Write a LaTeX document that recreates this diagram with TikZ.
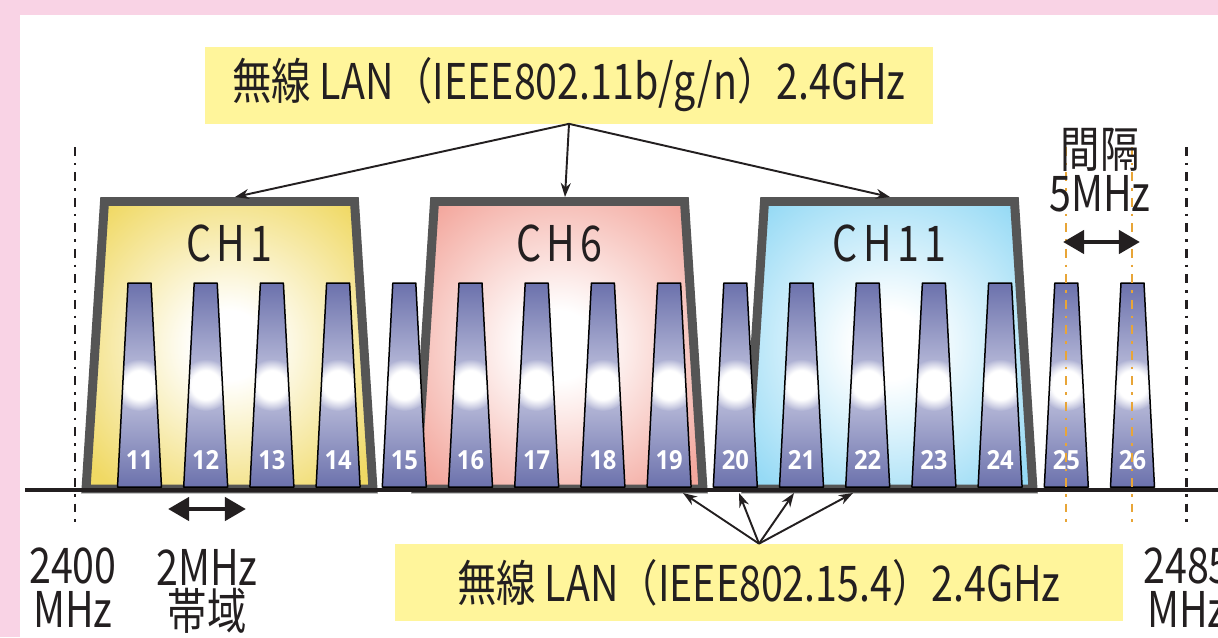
\documentclass[tikz,border=0pt]{standalone}
\usepackage{fontspec}
\setmainfont{Noto Sans CJK JP}[FakeStretch=0.8]
\newfontfamily\chfont{Noto Sans CJK JP}[FakeStretch=0.8,LetterSpace=11]
\newfontfamily\numfont{Open Sans}[FakeStretch=0.9]
\usepackage{tikz}
\usetikzlibrary{arrows.meta,fadings}

\definecolor{pinkbg}{RGB}{249,211,229}
\definecolor{labelyellow}{RGB}{255,245,155}
\definecolor{chone}{RGB}{240,217,100}
\definecolor{chsix}{RGB}{243,167,157}
\definecolor{chele}{RGB}{150,218,245}
\definecolor{barblue}{RGB}{104,110,170}
\definecolor{barlight}{RGB}{196,198,224}
\definecolor{edgegray}{RGB}{85,85,85}
\definecolor{orangeline}{RGB}{232,165,55}
\definecolor{inkblack}{RGB}{35,31,32}

\pgfdeclareradialshading{glowone}{\pgfpointorigin}{color(0bp)=(white); color(6bp)=(white); color(32bp)=(chone); color(50bp)=(chone)}
\pgfdeclareradialshading{glowsix}{\pgfpointorigin}{color(0bp)=(white); color(6bp)=(white); color(32bp)=(chsix); color(50bp)=(chsix)}
\pgfdeclareradialshading{glowele}{\pgfpointorigin}{color(0bp)=(white); color(6bp)=(white); color(32bp)=(chele); color(50bp)=(chele)}
\pgfdeclareverticalshading{barfade}{100bp}{color(0bp)=(barblue); color(24bp)=(barblue); color(50bp)=(barlight); color(76bp)=(barblue); color(100bp)=(barblue)}
\pgfdeclareradialshading{dotshade}{\pgfpointorigin}{color(0bp)=(pgftransparent!0); color(14bp)=(pgftransparent!0); color(25bp)=(pgftransparent!100); color(50bp)=(pgftransparent!100)}
\pgfdeclarefading{glowdot}{\pgfuseshading{dotshade}}

\begin{document}
\begin{tikzpicture}[x=0.02cm, y=-0.02cm,
    lbl/.style={fill=labelyellow, minimum width=14.56cm, minimum height=1.54cm,
                font=\fontsize{28pt}{30pt}\selectfont, text=inkblack},
    chan/.style={draw=edgegray, line width=5.1pt},
    chlbl/.style={font=\chfont\fontsize{28pt}{30pt}\selectfont, text=inkblack},
    bar/.style={draw=black, line width=0.85pt, line join=round},
    num/.style={font=\numfont\bfseries\fontsize{15pt}{15pt}\selectfont, text=white, inner sep=0pt},
    freq/.style={font=\fontsize{28pt}{25pt}\selectfont, align=center, text=inkblack, inner sep=0pt},
    freqline/.style={line width=1.7pt, dash pattern=on 5pt off 4pt on 1.5pt off 4pt},
    arr/.style={-{Stealth[length=8pt,width=5.7pt]}, line width=1.1pt, draw=inkblack},
    widtharr/.style={{Triangle[length=12pt,width=13pt]}-{Triangle[length=12pt,width=13pt]}, line width=2.8pt, draw=inkblack}
]
\path[use as bounding box, fill=pinkbg] (0,0) rectangle (1218,637);
\fill[white] (20,15) rectangle (1218,637);

\foreach \c/\sh in {229.5/glowone, 559.5/glowsix, 889.5/glowele}
  \shadedraw[chan, shading=\sh] (\c-143.5,489) -- (\c-125,201.5) -- (\c+125,201.5) -- (\c+143.5,489) -- cycle;

\node[chlbl] (ch1) at (229.5,243.5) {CH1};
\node[chlbl] (ch6) at (559.5,243.5) {CH6};
\node[chlbl] (ch11) at (889.5,243.5) {CH11};
\coordinate (ch1top) at (235,197);
\coordinate (ch6top) at (565,197);
\coordinate (ch11top) at (890,197);

\foreach \k in {11,...,26}{
  \pgfmathsetmacro\bx{139.5+66.2*(\k-11)}
  \begin{scope}
    \clip (\bx-22,487) -- (\bx-11.5,283) -- (\bx+11.5,283) -- (\bx+22,487) -- cycle;
    \shade[shading=barfade] (\bx-22,487) rectangle (\bx+22,283);
    \fill[white, path fading=glowdot] (\bx,385) circle (26);
  \end{scope}
  \draw[bar] (\bx-22,487) -- (\bx-11.5,283) -- (\bx+11.5,283) -- (\bx+22,487) -- cycle;
  \node[num] (n\k) at (\bx,460) {\k};
}

\draw[line width=2.3pt, draw=inkblack] (25,490) -- (1218,490);

\draw[freqline, draw=inkblack] (75,147) -- (75,523);
\draw[freqline, draw=inkblack] (1186,147) -- (1186,523);
\draw[freqline, draw=orangeline, line width=1.1pt] (1066,147) -- (1066,523);
\draw[freqline, draw=orangeline, line width=1.1pt] (1132,147) -- (1132,523);

\node[lbl] (wifi) at (569,85) {無線 LAN（IEEE802.11b/g/n）2.4GHz};
\node[lbl] (zig) at (759,582.5) {無線 LAN（IEEE802.15.4）2.4GHz};

\draw[arr] (wifi.south) -- (ch1top);
\draw[arr] (wifi.south) -- (ch6top);
\draw[arr] (wifi.south) -- (ch11top);

\coordinate (zt1) at (683,493);
\coordinate (zt2) at (739,493);
\coordinate (zt3) at (794,493);
\coordinate (zt4) at (853,493);
\foreach \t in {zt1,zt2,zt3,zt4}
  \draw[arr] (zig.north) -- (\t);

\node[freq] (gap) at (1100,170) {間隔\\5MHz};
\coordinate (gapl) at (1063,242);
\coordinate (gapr) at (1140,242);
\draw[widtharr] (gapl) -- (gapr);

\coordinate (bwl) at (168,509);
\coordinate (bwr) at (246,509);
\draw[widtharr] (bwl) -- (bwr);

\node[freq] (lo) at (73,588) {2400\\MHz};
\node[freq] (bw) at (207,591) {2MHz\\帯域};
\node[freq] (hi) at (1187,588) {2485\\MHz};
\end{tikzpicture}
\end{document}
